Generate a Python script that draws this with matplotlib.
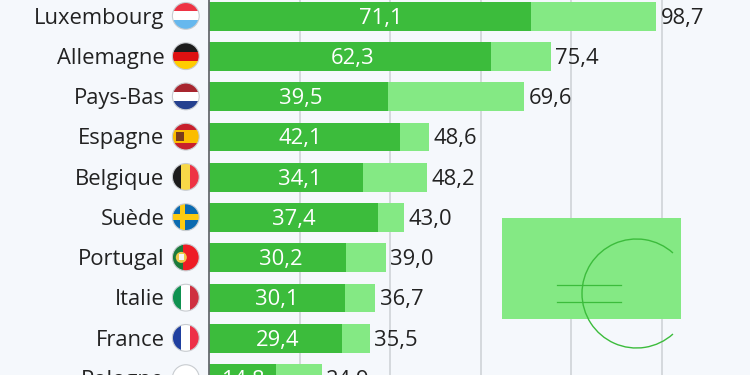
import matplotlib
matplotlib.use("Agg")
import matplotlib.pyplot as plt
from matplotlib.patches import Circle, Rectangle, Arc

countries = ["Luxembourg", "Allemagne", "Pays-Bas", "Espagne", "Belgique",
             "Suède", "Portugal", "Italie", "France", "Pologne"]
net_values = [71.1, 62.3, 39.5, 42.1, 34.1, 37.4, 30.2, 30.1, 29.4, 14.8]
gross_values = [98.7, 75.4, 69.6, 48.6, 48.2, 43.0, 39.0, 36.7, 35.5, 24.9]
grid_ticks = [0, 20, 40, 60, 80, 100]

# the white labels are not quite centred in the original, shift in pixels
label_shift = [11, 2, 2, -4, 14, 0, 3, 0, 2.5, 0]

# stripes go top to bottom, or left to right when vertical
flags = [
    ("h", ["#ee3344", "#ffffff", "#66b8ee"]),
    ("h", ["#1c1c1c", "#dd1111", "#ffcc00"]),
    ("h", ["#a8262f", "#ffffff", "#25418f"]),
    ("h", ["#c8202c", "#fbbd00", "#fbbd00", "#c8202c"]),
    ("v", ["#1c1c1c", "#f8d848", "#ee3344"]),
    ("h", ["#0a6ab0", "#0a6ab0", "#fdcb10", "#0a6ab0", "#0a6ab0"]),
    ("v", ["#1a7a3a", "#1a7a3a", "#ee1c25", "#ee1c25", "#ee1c25"]),
    ("v", ["#0f9150", "#ffffff", "#cf3040"]),
    ("v", ["#1f3f9f", "#ffffff", "#ee3048"]),
    ("h", ["#ffffff", "#e83048"]),
]

BG = "#f5f8fc"
DARK = "#3cbc3c"
LIGHT = "#84e984"
TEXT = "#222222"
plt.rcParams["font.family"] = "Open Sans"

fig = plt.figure(figsize=(7.5, 3.75), dpi=100)
fig.patch.set_facecolor(BG)

# values axis: 4.53 px per unit, zero at pixel 209
ax = fig.add_axes([0, 0, 1, 1])
ax.set_xlim(-209 / 4.53, 541 / 4.53)
ax.set_ylim((375 - 16.2) / 40.25, -16.2 / 40.25)
ax.axis("off")

for t in grid_ticks[1:]:
    ax.axvline(t, color="#ccd0d4", linewidth=1.1, zorder=1)
ax.axvline(0, color="#666a6e", linewidth=1.3, zorder=4)

for i, c in enumerate(countries):
    ax.barh(i, gross_values[i], height=0.715, color=LIGHT, zorder=2)
    ax.barh(i, net_values[i], height=0.715, color=DARK, zorder=3)
    ax.text(net_values[i] / 2 + label_shift[i] / 4.53, i + 0.05,
            f"{net_values[i]:.1f}".replace(".", ","),
            color="white", fontsize=15.8, ha="center", va="center", zorder=5)
    ax.text(gross_values[i] + 1, i + 0.05, f"{gross_values[i]:.1f}".replace(".", ","),
            color=TEXT, fontsize=15.8, ha="left", va="center", zorder=5)
    ax.text(-9.8, i + 0.05, c, color=TEXT, fontsize=15.8, ha="right", va="center", zorder=5)

# overlay in pixels for flags and the euro note
ov = fig.add_axes([0, 0, 1, 1])
ov.set_xlim(0, 750)
ov.set_ylim(375, 0)
ov.axis("off")
ov.patch.set_alpha(0)

R = 13.4
cx = 185.8
for i, (kind, stripes) in enumerate(flags):
    cy = 15.9 + i * 40.25
    clip = Circle((cx, cy), R, transform=ov.transData)
    n = len(stripes)
    for j, col in enumerate(stripes):
        if kind == "h":
            r = Rectangle((cx - R, cy - R + 2 * R * j / n), 2 * R, 2 * R / n, color=col, lw=0)
        else:
            r = Rectangle((cx - R + 2 * R * j / n, cy - R), 2 * R / n, 2 * R, color=col, lw=0)
        ov.add_patch(r)
        r.set_clip_path(clip)
    if countries[i] == "Suède":
        cross = Rectangle((cx - 6, cy - R), 5, 2 * R, color="#fdcb10", lw=0)
        ov.add_patch(cross)
        cross.set_clip_path(clip)
    if countries[i] == "Espagne":
        ov.add_patch(Rectangle((cx - 9.5, cy - 4.5), 8, 9, color="#7a3b1c", lw=0))
    if countries[i] == "Portugal":
        ov.add_patch(Circle((cx - 4.5, cy), 5.5, color="#f0c84a", lw=0))
        ov.add_patch(Rectangle((cx - 7, cy - 3), 5, 6, color="#f4f4f4", lw=0))
    ov.add_patch(Circle((cx, cy), R, fill=False, ec="#c8ccd0", lw=0.8))

ov.add_patch(Rectangle((502, 218), 178.5, 101, color=LIGHT, lw=0, zorder=2))
ov.add_patch(Arc((636.5, 293.5), 109, 109, theta1=48, theta2=312, color=DARK, lw=1.0, zorder=3))
for y in (285.3, 302):
    ov.plot([557, 621], [y, y], color=DARK, lw=0.9, zorder=3)

fig.savefig("out.png", dpi=100, facecolor=BG)
plt.close(fig)
